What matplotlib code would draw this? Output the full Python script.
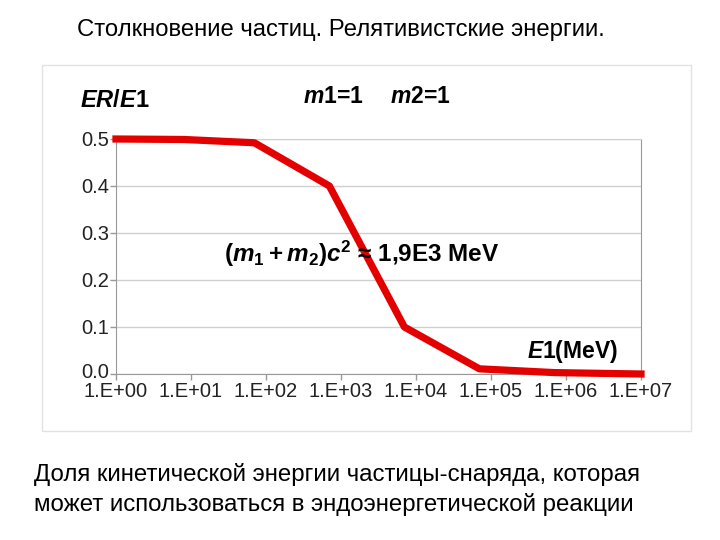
import numpy as np
import matplotlib
matplotlib.use("Agg")
import matplotlib.pyplot as plt
import matplotlib.transforms as mtransforms
from matplotlib.patches import Rectangle

plt.rcParams['font.family'] = ['Liberation Sans', 'DejaVu Sans']
plt.rcParams['mathtext.fontset'] = 'custom'
plt.rcParams['mathtext.rm'] = 'Liberation Sans:bold'
plt.rcParams['mathtext.it'] = 'Liberation Sans:italic:bold'
plt.rcParams['mathtext.bf'] = 'Liberation Sans:bold'

# data
e1 = [1, 8, 70, 700, 7000, 70000, 700000, 1e7]
ratio = [0.5, 0.499, 0.492, 0.40, 0.10, 0.011, 0.003, 0.0]
xtick_vals = [1e0, 1e1, 1e2, 1e3, 1e4, 1e5, 1e6, 1e7]
xtick_labels = ['1.E+00', '1.E+01', '1.E+02', '1.E+03', '1.E+04', '1.E+05', '1.E+06', '1.E+07']
ytick_vals = [0.0, 0.1, 0.2, 0.3, 0.4, 0.5]

W, H = 720, 540
fig = plt.figure(figsize=(7.2, 5.4), dpi=100)

# light frame around the chart picture
fig.patches.append(Rectangle((42 / W, 1 - 431 / H), (691 - 42) / W, (431 - 65) / H,
                             transform=fig.transFigure, fill=False,
                             edgecolor='#e2e2e2', lw=1))

ax = fig.add_axes([116 / W, 1 - 374 / H, (641 - 116) / W, (374 - 139) / H])
ax.plot(e1, ratio, color='#e50000', lw=5.2, solid_joinstyle='round', zorder=3,
        clip_on=False)
ax.set_xscale('log')
ax.set_xlim(1, 1e7)
ax.set_ylim(0, 0.5)
ax.set_xticks(xtick_vals)
ax.set_xticklabels(xtick_labels)
ax.minorticks_off()
ax.set_yticks(ytick_vals)
ax.set_yticklabels(['%.1f' % v for v in ytick_vals])
ax.grid(True, axis='y', color='#cfcfcf', lw=1)
ax.tick_params(labelsize=14.5, colors='#222222', length=4, width=1, pad=1)
ax.tick_params(axis='both', color='#999999')
ax.tick_params(axis='x', pad=1.5)
for s in ['left', 'bottom', 'right']:
    ax.spines[s].set_color('#999999')
ax.spines['top'].set_color('#cfcfcf')
ax.set_axisbelow(True)
# nudge the lowest y label up a little so it clears the first x label
lab0 = ax.get_yticklabels()[0]
lab0.set_transform(lab0.get_transform() +
                   mtransforms.ScaledTranslation(0, 4 / 100, fig.dpi_scale_trans))

fig.text(341 / W, 1 - 30 / H, 'Столкновение частиц. Релятивистские энергии.',
         ha='center', va='center', fontsize=17.2)
fig.text(80 / W, 1 - 107 / H, r'$ER/E$1', fontsize=17, fontweight='bold', va='baseline')
fig.text(303 / W, 1 - 103 / H, r'$m$1=1', fontsize=16.5, fontweight='bold',
         va='baseline')
fig.text(390 / W, 1 - 103 / H, r'$m$2=1', fontsize=16.5, fontweight='bold',
         va='baseline')
fig.text(224 / W, 1 - 262 / H, r'$(m_1 + m_2)c^2$ ≈ 1,9E3 MeV', fontsize=17.5,
         fontweight='bold', va='baseline', zorder=5)
fig.text(527 / W, 1 - 358 / H, r'$E$1(MeV)', fontsize=16.5, fontweight='bold', va='baseline')

fig.text(34 / W, 1 - 474 / H, 'Доля кинетической энергии частицы-снаряда, которая',
         ha='left', va='center', fontsize=17.3)
fig.text(34 / W, 1 - 504 / H, 'может использоваться в эндоэнергетической реакции',
         ha='left', va='center', fontsize=17.3)

fig.savefig('out.png', dpi=100)
